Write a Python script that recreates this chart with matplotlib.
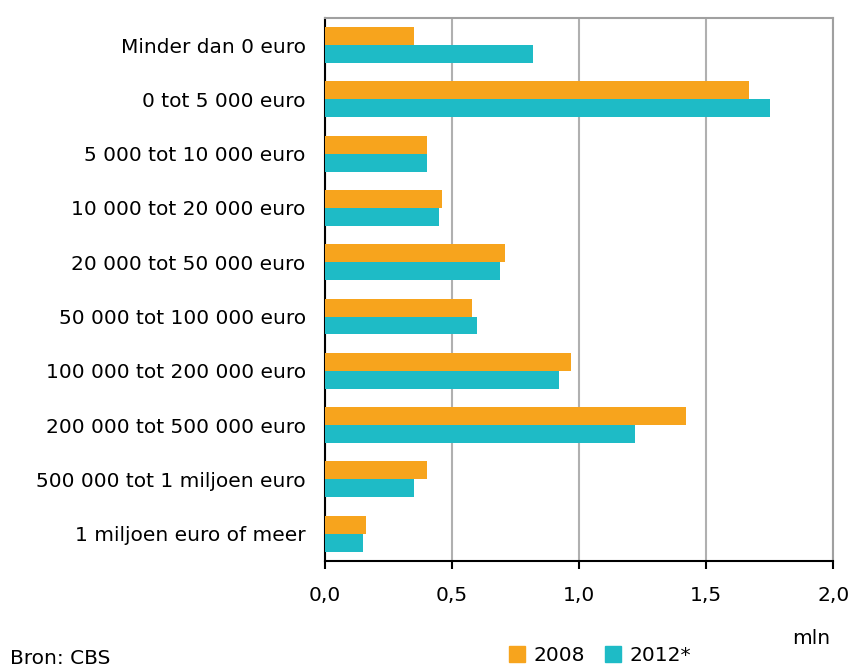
import matplotlib.pyplot as plt
import numpy as np
from matplotlib.patches import Patch

# vermogensklassen en aantallen huishoudens (mln)
klassen = [
    "Minder dan 0 euro",
    "0 tot 5 000 euro",
    "5 000 tot 10 000 euro",
    "10 000 tot 20 000 euro",
    "20 000 tot 50 000 euro",
    "50 000 tot 100 000 euro",
    "100 000 tot 200 000 euro",
    "200 000 tot 500 000 euro",
    "500 000 tot 1 miljoen euro",
    "1 miljoen euro of meer",
]
waarden_2008 = [0.35, 1.67, 0.40, 0.46, 0.71, 0.58, 0.97, 1.42, 0.40, 0.16]
waarden_2012 = [0.82, 1.75, 0.40, 0.45, 0.69, 0.60, 0.92, 1.22, 0.35, 0.15]
xticks = [0.0, 0.5, 1.0, 1.5, 2.0]
xticklabels = ["0,0", "0,5", "1,0", "1,5", "2,0"]

oranje = "#F7A41D"
turkoois = "#1EBBC6"

plt.rcParams["font.family"] = ["DejaVu Sans"]
plt.rcParams["font.size"] = 14.5

fig = plt.figure(figsize=(8.51, 6.66), dpi=100)
ax = fig.add_axes([0.382, 0.158, 0.597, 0.815])

y = np.arange(len(klassen))
h = 0.33
ax.barh(y - h / 2, waarden_2008, height=h, color=oranje, zorder=3)
ax.barh(y + h / 2, waarden_2012, height=h, color=turkoois, zorder=3)

ax.set_xlim(0, 2.0)
ax.set_ylim(len(klassen) - 0.5, -0.5)
ax.set_yticks(y)
ax.set_yticklabels(klassen)
ax.set_xticks(xticks)
ax.set_xticklabels(xticklabels)
ax.tick_params(axis="y", length=0, pad=14)
ax.tick_params(axis="x", direction="out", length=6, width=1.5, pad=12)
ax.grid(axis="x", color="#B0B0B0", lw=1.5, zorder=0)

for kant in ["top", "right"]:
    ax.spines[kant].set_color("#A0A0A0")
    ax.spines[kant].set_linewidth(1.5)
ax.spines["left"].set_color("black")
ax.spines["bottom"].set_color("black")
ax.spines["left"].set_linewidth(1.5)
ax.spines["bottom"].set_linewidth(1.5)

fig.text(0.976, 0.042, "mln", ha="right", va="center")
fig.text(0.012, 0.012, "Bron: CBS", ha="left", va="center")

handles = [Patch(color=oranje, label="2008"), Patch(color=turkoois, label="2012*")]
fig.legend(handles=handles, loc="center", bbox_to_anchor=(0.705, 0.016),
           ncol=2, frameon=False, handlelength=0.8, handleheight=0.8,
           handletextpad=0.4, columnspacing=1.0)

fig.savefig("out.png", dpi=100)
